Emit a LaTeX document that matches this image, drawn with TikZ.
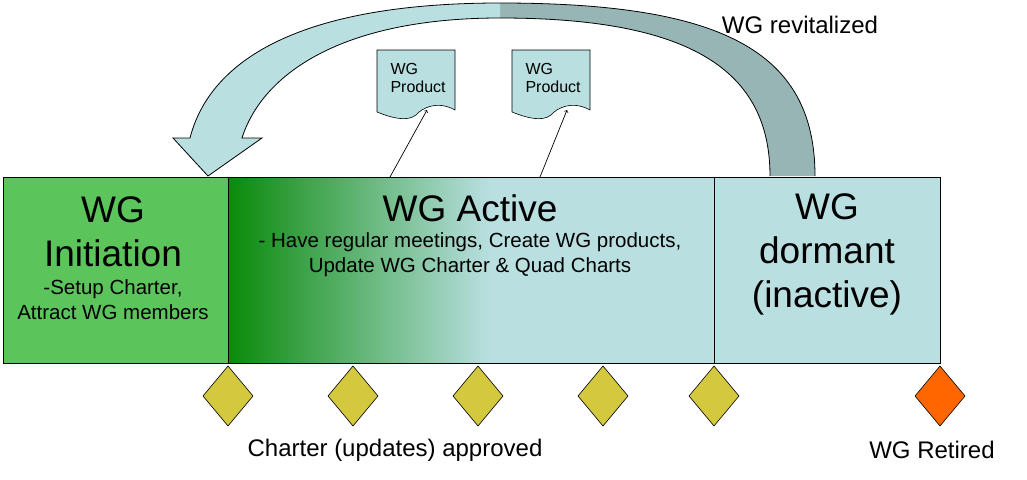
\documentclass[tikz,border=0pt]{standalone}
\usepackage{fontspec}
\setmainfont{Liberation Sans}
\definecolor{lb}{HTML}{B9DFE1}
\definecolor{dk}{HTML}{97B5B5}
\definecolor{gi}{HTML}{5BC55B}
\definecolor{dg}{HTML}{0A8A0A}
\definecolor{dia}{HTML}{D4C83F}
\definecolor{ora}{HTML}{FF6600}
\begin{document}
\begin{tikzpicture}[x=1pt,y=-1pt,
  big/.style={font=\fontsize{37}{44}\selectfont,align=center},
  small/.style={font=\fontsize{20.5}{25}\selectfont,align=center},
  lab/.style={font=\fontsize{24}{28}\selectfont},
  diam/.style={draw,fill=dia,line width=0.6pt},
  doc/.style={draw,fill=lb,line width=0.6pt}]
\useasboundingbox (0,0) rectangle (1027,479);
% curved arrow
\fill[dk] (815,176) .. controls (815,50) and (720,3) .. (500,3) -- (500,18) .. controls (690,18) and (770,70) .. (770,176) -- cycle;
\fill[lb] (500,3) .. controls (300,3) and (210,60) .. (190,138) -- (173,138) -- (208,176) -- (262,138) -- (242,138) .. controls (262,75) and (340,18) .. (500,18) -- cycle;
\draw[line width=0.8pt] (815,176) .. controls (815,50) and (720,3) .. (500,3) .. controls (300,3) and (210,60) .. (190,138) -- (173,138) -- (208,176) -- (262,138) -- (242,138) .. controls (262,75) and (340,18) .. (500,18) .. controls (690,18) and (770,70) .. (770,176);
\node[lab] (rev) at (800,25) {WG revitalized};
% boxes
\fill[gi] (3,177) rectangle (228,363);
\shade[left color=dg,right color=lb] (228,177) rectangle (490,363);
\fill[lb] (490,177) rectangle (714,363);
\fill[lb] (714,177) rectangle (940,363);
\draw[line width=0.8pt] (3,177) rectangle (940,363) (228,177) -- (228,363) (714,177) -- (714,363);
\node[big] (t1) at (113,232) {WG\\Initiation};
\node[small] (s1) at (113,300) {-Setup Charter,\\Attract WG members};
\node[big] (t2) at (470,208) {WG Active};
\node[small] (s2) at (470,255) {- Have regular meetings, Create WG products,\\Update WG Charter \& Quad Charts};
\node[big] (t3) at (827,254) {WG\\dormant\\(inactive)};
% documents
\foreach \n/\x in {d1/377,d2/512}{
  \draw[doc] (\x,50) -- (\x+78,50) -- (\x+78,110) .. controls (\x+60,100) and (\x+45,108) .. (\x+39,115) .. controls (\x+30,122) and (\x+15,118) .. (\x,112) -- cycle;
  \node[font=\fontsize{16}{18}\selectfont,align=left,anchor=north west] (\n) at (\x+10,60) {WG\\Product};
}
\coordinate (a1) at (390,177); \coordinate (a2) at (540,177);
\coordinate (b1) at (427,110); \coordinate (b2) at (567,110);
\draw[->,line width=0.7pt] (a1) -- (b1);
\draw[->,line width=0.7pt] (a2) -- (b2);
% diamonds
\foreach \x in {228,353,478,603,714}{
  \draw[diam] (\x,366) -- (\x+25,396) -- (\x,426) -- (\x-25,396) -- cycle;
}
\draw[diam,fill=ora] (940,366) -- (965,396) -- (940,426) -- (915,396) -- cycle;
\node[lab] (ca) at (395,450) {Charter (updates) approved};
\node[lab] (ret) at (932,450) {WG Retired};
\end{tikzpicture}
\end{document}
